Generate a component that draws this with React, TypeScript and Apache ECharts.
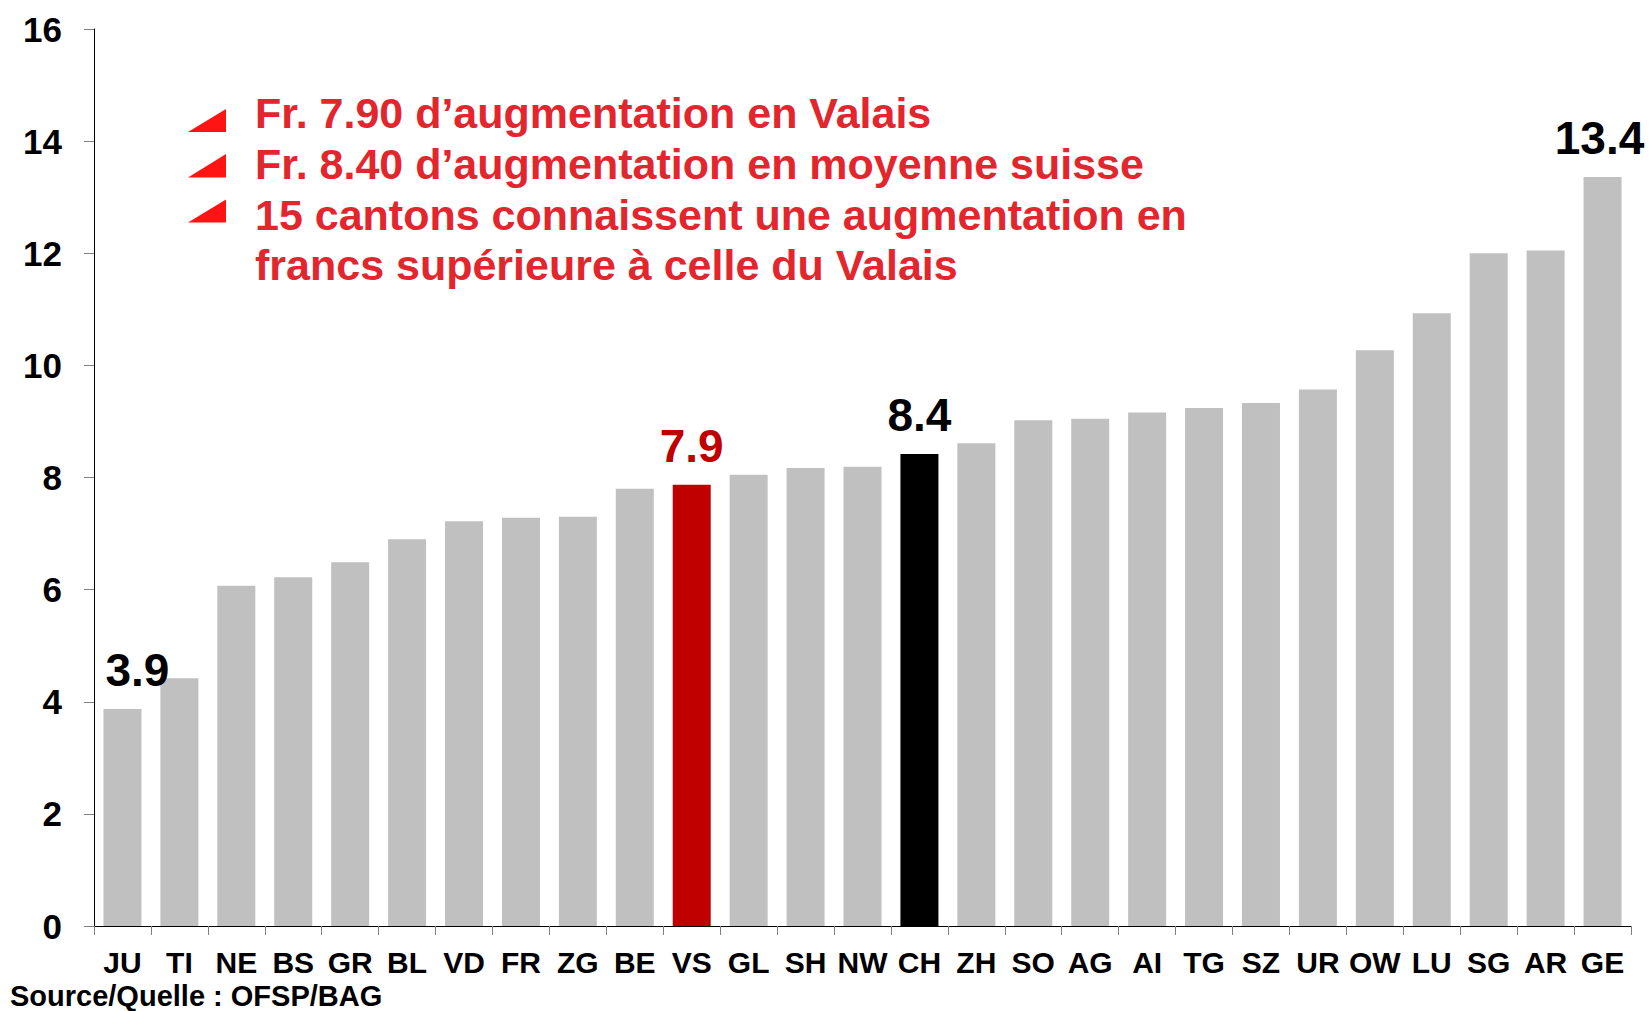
import React, { useEffect, useRef } from "react";
import * as echarts from "echarts";

const cantons = ["JU","TI","NE","BS","GR","BL","VD","FR","ZG","BE","VS","GL","SH","NW","CH","ZH","SO","AG","AI","TG","SZ","UR","OW","LU","SG","AR","GE"];
const increases = [3.87,4.42,6.07,6.22,6.49,6.9,7.22,7.28,7.3,7.8,7.87,8.05,8.17,8.19,8.42,8.61,9.02,9.05,9.16,9.24,9.33,9.57,10.27,10.93,12.0,12.05,13.36];
const labelled = ["JU","VS","CH","GE"];
const yTicks = { min: 0, max: 16, interval: 2 };
const notes = [
  "Fr. 7.90 d\u2019augmentation en Valais",
  "Fr. 8.40 d\u2019augmentation en moyenne suisse",
  "15 cantons connaissent une augmentation en",
  "francs sup\u00e9rieure \u00e0 celle du Valais",
];
const sourceText = "Source/Quelle : OFSP/BAG";

const FONT = "'Liberation Sans', Arial, sans-serif";

function barColor(c: string) {
  if (c === "VS") return "#C00000";
  if (c === "CH") return "#000000";
  return "#C0C0C0";
}

export default function App() {
  const ref = useRef<HTMLDivElement>(null);
  useEffect(() => {
    if (!ref.current) return;
    const chart = echarts.init(ref.current, undefined, { renderer: "svg" });
    const data = increases.map((v, i) => {
      const c = cantons[i];
      const show = labelled.includes(c);
      return {
        value: v,
        itemStyle: { color: barColor(c) },
        label: {
          show,
          position: "top",
          distance: 16,
          offset: c === "JU" ? [15, 0] : c === "GE" ? [-3, 0] : [0, 0],
          color: c === "VS" ? "#C00000" : "#000000",
          fontSize: 46,
          fontWeight: "bold",
          fontFamily: FONT,
          formatter: (p: any) => Number(p.value).toFixed(1),
        },
      };
    });
    const lineY = [113, 163.5, 215, 265];
    const triY = [[109, 132], [154, 177.5], [199.5, 222.5]];
    const graphics: any[] = [];
    triY.forEach(([t, b]) => {
      graphics.push({
        type: "polygon",
        shape: { points: [[188, b], [226, b], [226, t]] },
        style: { fill: "#FF1414" },
      });
    });
    notes.forEach((txt, i) => {
      graphics.push({
        type: "text",
        x: 255,
        y: lineY[i],
        style: {
          text: txt,
          font: `bold 43px ${FONT}`,
          fill: "#E3262D",
          textAlign: "left",
          textVerticalAlign: "middle",
          align: "left",
          verticalAlign: "middle",
        },
      });
    });
    graphics.push({
      type: "text",
      x: 10,
      y: 996,
      style: {
        text: sourceText,
        font: `bold 29px ${FONT}`,
        fill: "#000000",
        textAlign: "left",
        textVerticalAlign: "middle",
        align: "left",
        verticalAlign: "middle",
      },
    });
    chart.setOption({
      animation: false,
      backgroundColor: "#ffffff",
      grid: { left: 94, right: 19, top: 29, bottom: 85, containLabel: false },
      xAxis: {
        type: "category",
        data: cantons,
        axisLine: { show: true, lineStyle: { color: "#000000", width: 1 } },
        axisTick: { show: true, length: 9, interval: 0, lineStyle: { color: "#7F7F7F" } },
        axisLabel: {
          interval: 0,
          margin: 21,
          color: "#000000",
          fontSize: 30,
          fontWeight: "bold",
          fontFamily: FONT,
        },
      },
      yAxis: {
        type: "value",
        min: yTicks.min,
        max: yTicks.max,
        interval: yTicks.interval,
        axisLine: { show: true, lineStyle: { color: "#000000", width: 1 } },
        axisTick: { show: true, length: 10, lineStyle: { color: "#7F7F7F" } },
        splitLine: { show: false },
        axisLabel: {
          margin: 32,
          color: "#000000",
          fontSize: 35,
          fontWeight: "bold",
          fontFamily: FONT,
        },
      },
      series: [
        {
          type: "bar",
          data,
          barWidth: 38,
        },
      ],
      graphic: graphics,
    });
    return () => chart.dispose();
  }, []);
  return (
    <div
      ref={ref}
      style={{ position: "absolute", left: 0, top: 0, width: 1650, height: 1011 }}
    />
  );
}
